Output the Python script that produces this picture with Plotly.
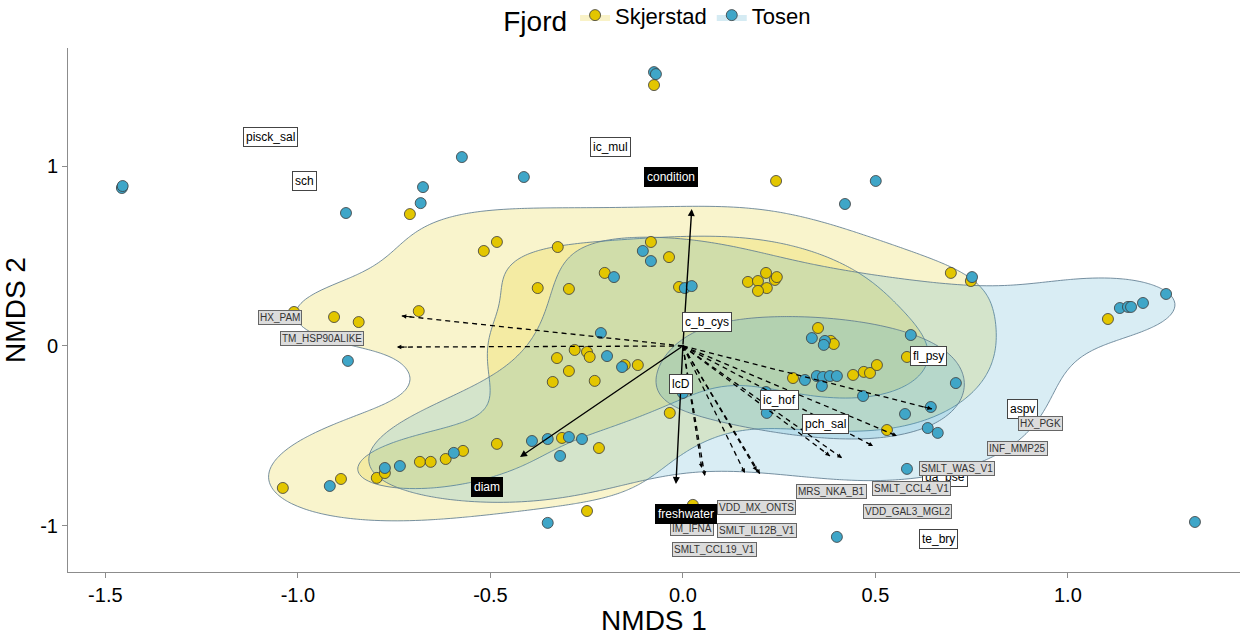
import numpy as np
import plotly.graph_objects as go

# ---------------- data ----------------
skj_x = [-0.075, 0.242, -0.709, -0.517, -0.483, -0.325, -0.083, -0.036, -0.203, -0.377,
         -0.296, -0.010, 0.169, 0.195, 0.216, 0.239, 0.244, 0.218, 0.195, 0.696,
         0.748, 1.104, -1.010, -0.906, -0.842, -0.686, -0.281, -0.249, -0.242, -0.327,
         -0.151, -0.117, -0.296, -0.338, -0.229, -0.034, 0.286, 0.442, 0.470, 0.486,
         0.504, 0.351, 0.384, 0.392, 0.582, 0.530, -1.039, -0.888, -0.795, -0.774,
         -0.683, -0.655, -0.616, -0.571, -0.483, -0.314, -0.218, -0.249, 0.026]
skj_y = [1.450, 0.917, 0.733, 0.528, 0.578, 0.550, 0.578, 0.494, 0.406, 0.322,
         0.317, 0.328, 0.356, 0.361, 0.406, 0.367, 0.383, 0.322, 0.306, 0.406,
         0.361, 0.150, 0.189, 0.161, 0.133, 0.194, -0.022, -0.033, -0.061, -0.067,
         -0.106, -0.106, -0.139, -0.200, -0.194, -0.372, -0.178, -0.161, -0.144, -0.150,
         -0.106, 0.100, 0.028, 0.011, -0.061, -0.467, -0.789, -0.739, -0.733, -0.706,
         -0.644, -0.644, -0.628, -0.583, -0.544, -0.511, -0.567, -0.917, -0.883]

tos_x = [-0.075, -0.070, -1.457, -1.455, -0.875, -0.681, -0.675, -0.574, -0.413, 0.421,
         0.501, -0.104, -0.083, -0.179, 0.005, 0.023, 0.751, 1.135, 1.156, 1.164,
         1.195, 1.255, 1.330, -0.213, -0.197, -0.158, 0.000, -0.262, -0.870, 0.317,
         0.348, 0.364, 0.382, 0.400, 0.361, 0.335, 0.369, 0.366, 0.592, 0.709,
         0.468, 0.216, 0.218, 0.577, 0.644, 0.636, 0.662, 0.582, -0.917, -0.774,
         -0.735, -0.595, -0.392, -0.351, -0.296, -0.319, -0.351, 0.400]
tos_y = [1.522, 1.511, 0.878, 0.889, 0.739, 0.794, 0.883, 1.050, 0.939, 0.789,
         0.917, 0.528, 0.472, 0.383, 0.322, 0.333, 0.383, 0.211, 0.217, 0.217,
         0.239, 0.289, -0.978, 0.072, -0.056, -0.117, -0.261, -0.517, -0.083, -0.189,
         -0.167, -0.172, -0.167, -0.167, -0.222, 0.044, 0.028, 0.006, 0.061, -0.206,
         -0.278, -0.256, -0.372, -0.378, -0.339, -0.456, -0.483, -0.683, -0.778, -0.678,
         -0.667, -0.594, -0.528, -0.517, -0.506, -0.611, -0.983, -1.061]

# environmental vectors (solid arrows)
env_names = ["condition", "diam", "freshwater"]
env_x = [0.023, -0.423, -0.018]
env_y = [0.761, -0.617, -0.767]
env_lab_x = [-0.031, -0.509, 0.008]
env_lab_y = [0.939, -0.783, -0.933]

# gene vectors (dashed arrows) and their repelled labels
gene_names = ["HX_PAM", "TM_HSP90ALIKE", "HX_PGK", "INF_MMP25", "SMLT_WAS_V1",
              "SMLT_CCL4_V1", "VDD_GAL3_MGL2", "MRS_NKA_B1", "VDD_MX_ONTS", "IM_IFNA",
              "SMLT_IL12B_V1", "SMLT_CCL19_V1"]
gene_x = [-0.730, -0.743, 0.647, 0.556, 0.494, 0.413, 0.382, 0.200, 0.057, 0.049, 0.161, 0.192]
gene_y = [0.167, -0.006, -0.350, -0.500, -0.556, -0.622, -0.611, -0.711, -0.722, -0.678, -0.706, -0.694]
gene_lab_x = [-1.047, -0.938, 0.930, 0.868, 0.712, 0.595, 0.584, 0.387, 0.190, 0.023, 0.192, 0.081]
gene_lab_y = [0.156, 0.039, -0.428, -0.572, -0.683, -0.794, -0.922, -0.811, -0.900, -1.017, -1.028, -1.133]

# species scores (white labels)
sp_names = ["pisck_sal", "sch", "ic_mul", "c_b_cys", "lcD", "ic_hof", "pch_sal",
            "fl_psy", "aspv", "ua_pse", "te_bry"]
sp_x = [-1.070, -0.984, -0.187, 0.062, -0.005, 0.252, 0.371, 0.639, 0.881, 0.681, 0.665]
sp_y = [1.161, 0.917, 1.106, 0.133, -0.211, -0.300, -0.433, -0.056, -0.350, -0.728, -1.072]

x_ticks = [-1.5, -1.0, -0.5, 0.0, 0.5, 1.0]
y_ticks = [-1, 0, 1]

# ---------------- styles ----------------
YEL = "#E3C600"
BLU = "#3FA6C8"
YEL_F = "rgba(227,198,0,0.20)"
BLU_F = "rgba(63,166,200,0.20)"
CLINE = "rgba(95,125,145,0.85)"
FONT = "Arial, Liberation Sans, sans-serif"

XR = [-1.597, 1.447]
YR = [-1.256, 1.656]


def bw_nrd(v):
    v = np.asarray(v)
    q = np.quantile(v, [0.25, 0.75])
    return 4 * 1.06 * min(np.std(v, ddof=1), (q[1] - q[0]) / 1.34) * len(v) ** (-0.2)


def kde2d(x, y, gx, gy):
    x = np.asarray(x); y = np.asarray(y)
    h1 = bw_nrd(x) / 4
    h2 = bw_nrd(y) / 4
    ax = (gx[:, None] - x[None, :]) / h1
    ay = (gy[:, None] - y[None, :]) / h2
    nx = np.exp(-0.5 * ax ** 2) / np.sqrt(2 * np.pi)
    ny = np.exp(-0.5 * ay ** 2) / np.sqrt(2 * np.pi)
    z = nx @ ny.T / (len(x) * h1 * h2)
    return z.T  # shape (len(gy), len(gx))


gx = np.linspace(XR[0], XR[1], 200)
gy = np.linspace(YR[0], YR[1], 200)

fig = go.Figure()

z_skj = kde2d(skj_x, skj_y, gx, gy)
z_tos = kde2d(tos_x, tos_y, gx, gy)
# shared, equally spaced contour breaks for the whole layer (as ggplot does)
step = 0.33 * z_tos.max()
levels = [step * k for k in range(1, 6)]

for z, fcol in [(z_skj, YEL_F), (z_tos, BLU_F)]:
    for lv in levels:
        if lv >= 0.88 * z.max():
            continue
        fig.add_trace(go.Contour(
            x=gx, y=gy, z=z,
            contours=dict(type="constraint", operation="<", value=lv),
            fillcolor=fcol, line=dict(color=CLINE, width=1, smoothing=1),
            showscale=False, hoverinfo="skip", showlegend=False))

# points
fig.add_trace(go.Scatter(x=skj_x, y=skj_y, mode="markers", showlegend=False,
                         marker=dict(size=11, color=YEL, line=dict(color="#3a3a3a", width=0.8))))
fig.add_trace(go.Scatter(x=tos_x, y=tos_y, mode="markers", showlegend=False,
                         marker=dict(size=11, color=BLU, line=dict(color="#3a3a3a", width=0.8))))

# legend entries
for name, col, fcol in [("Skjerstad", YEL, "rgba(227,198,0,0.22)"), ("Tosen", BLU, "rgba(63,166,200,0.22)")]:
    fig.add_trace(go.Scatter(x=[None], y=[None], mode="markers", name=name, fill="toself",
                             fillcolor=fcol, line=dict(color="rgba(0,0,0,0)"),
                             marker=dict(size=11, color=col, line=dict(color="#3a3a3a", width=0.8))))

# dashed gene vectors
dx, dy = [], []
for gxv, gyv in zip(gene_x, gene_y):
    dx += [0, gxv, None]
    dy += [0, gyv, None]
fig.add_trace(go.Scatter(x=dx, y=dy, mode="lines", showlegend=False, hoverinfo="skip",
                         line=dict(color="black", width=1.3, dash="5px,4px")))

annotations = []
for gxv, gyv in zip(gene_x, gene_y):
    L = np.hypot(gxv, gyv)
    annotations.append(dict(x=gxv, y=gyv, ax=gxv - 0.03 * gxv / L, ay=gyv - 0.03 * gyv / L,
                            xref="x", yref="y", axref="x", ayref="y", text="", showarrow=True,
                            arrowhead=2, arrowsize=0.9, arrowwidth=1, arrowcolor="black", standoff=0))
# solid env vectors
for exv, eyv in zip(env_x, env_y):
    annotations.append(dict(x=exv, y=eyv, ax=0, ay=0, xref="x", yref="y", axref="x", ayref="y",
                            text="", showarrow=True, arrowhead=2, arrowsize=1, arrowwidth=1.4,
                            arrowcolor="black", standoff=0))

# labels
for n, lx, ly in zip(sp_names, sp_x, sp_y):
    annotations.append(dict(x=lx, y=ly, xref="x", yref="y", text=n, showarrow=False,
                            bgcolor="white", bordercolor="#444444", borderwidth=1, borderpad=2,
                            font=dict(family=FONT, size=12, color="black")))
for n, lx, ly in zip(gene_names, gene_lab_x, gene_lab_y):
    annotations.append(dict(x=lx, y=ly, xref="x", yref="y", text=n, showarrow=False,
                            bgcolor="#dcdcdc", bordercolor="#666666", borderwidth=1, borderpad=1,
                            font=dict(family=FONT, size=10, color="#333333")))
for n, lx, ly in zip(env_names, env_lab_x, env_lab_y):
    annotations.append(dict(x=lx, y=ly, xref="x", yref="y", text=n, showarrow=False,
                            bgcolor="black", bordercolor="black", borderwidth=1, borderpad=2,
                            font=dict(family=FONT, size=12, color="white")))

fig.update_layout(
    width=1250, height=636,
    margin=dict(l=68, r=10, t=48, b=64),
    paper_bgcolor="white", plot_bgcolor="white",
    font=dict(family=FONT, color="black"),
    annotations=annotations,
    legend=dict(orientation="h", xref="container", x=0.527, xanchor="center",
                yref="container", y=0.972, yanchor="middle",
                title=dict(text="Fjord", font=dict(size=28, family=FONT)),
                font=dict(size=22, family=FONT), bgcolor="rgba(0,0,0,0)"),
    xaxis=dict(range=XR, tickvals=x_ticks, ticktext=[f"{v:.1f}" for v in x_ticks],
               showgrid=False, zeroline=False, showline=True, linecolor="#8c8c8c", linewidth=1,
               ticks="outside", ticklen=5, tickcolor="#8c8c8c",
               tickfont=dict(size=20, color="black"), automargin=False,
               title=dict(text="NMDS 1", font=dict(size=28), standoff=2)),
    yaxis=dict(range=YR, tickvals=y_ticks, ticktext=[str(v) for v in y_ticks],
               showgrid=False, zeroline=False, showline=True, linecolor="#8c8c8c", linewidth=1,
               ticks="outside", ticklen=5, tickcolor="#8c8c8c",
               tickfont=dict(size=20, color="black"), automargin=False,
               title=dict(text="NMDS 2", font=dict(size=28), standoff=8)),
)

fig.write_html("out.html", config={"displayModeBar": False},
               post_script="document.body.style.margin='0px';")
